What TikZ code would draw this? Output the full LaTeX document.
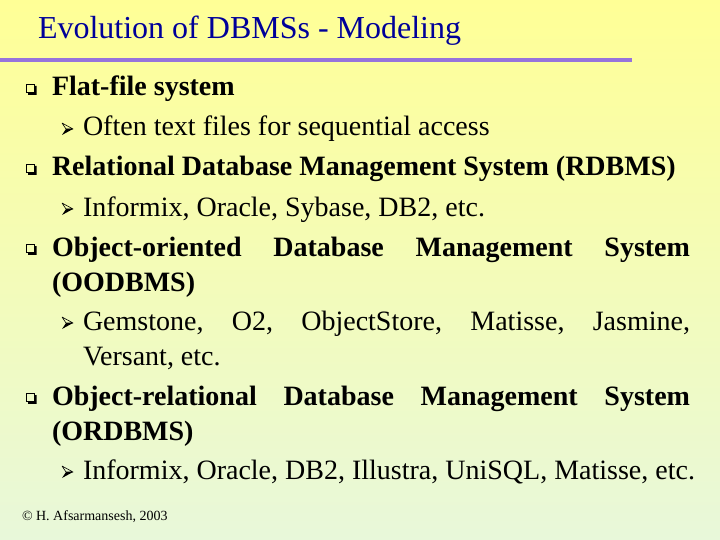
\documentclass[tikz,border=0pt]{standalone}
\usepackage{fontspec}
\setmainfont{Liberation Serif}
\definecolor{titleblue}{RGB}{0,0,153}
\definecolor{rulepurple}{RGB}{150,115,220}
\definecolor{bgtop}{RGB}{255,255,150}
\definecolor{bgbot}{RGB}{232,248,218}
\begin{document}
\begin{tikzpicture}[x=1pt,y=-1pt,
  txt/.style={anchor=base west,inner sep=0pt,outer sep=0pt},
  body/.style={txt,font=\fontsize{28}{33}\selectfont},
  head/.style={txt,font=\fontsize{28}{33}\selectfont\bfseries},
  titletxt/.style={txt,font=\fontsize{32}{38}\selectfont,text=titleblue},
  foottxt/.style={txt,font=\fontsize{14}{16}\selectfont}]
\useasboundingbox (0,0) rectangle (720,540);
\shade[top color=bgtop,bottom color=bgbot] (0,0) rectangle (720,540);
\node[titletxt] (title) at (38,38.5) {Evolution of DBMSs - Modeling};
\fill[rulepurple] (0,58) rectangle (632,62);
\node[head] (b1) at (52,96) {Flat-file system};
\node[body] (s1) at (83,136) {Often text files for sequential access};
\node[head] (b2) at (52,176) {Relational Database Management System (RDBMS)};
\node[body] (s2) at (83,216) {Informix, Oracle, Sybase, DB2, etc.};
\node[head] (b3) at (52,256) {\makebox[638pt][s]{Object-oriented Database Management System}};
\node[head] (b3b) at (52,291) {(OODBMS)};
\node[body] (s3) at (83,330) {\makebox[607pt][s]{Gemstone, O2, ObjectStore, Matisse, Jasmine,}};
\node[body] (s3b) at (83,365) {Versant, etc.};
\node[head] (b4) at (52,405) {\makebox[638pt][s]{Object-relational Database Management System}};
\node[head] (b4b) at (52,440) {(ORDBMS)};
\node[body] (s4) at (83,479) {Informix, Oracle, DB2, Illustra, UniSQL, Matisse, etc.};
\node[foottxt] (foot) at (22,520) {© H. Afsarmansesh, 2003};
\foreach \b in {96,176,256,405} {
  \draw[line width=1.2pt] (26.6,\b-11.4) rectangle (34.2,\b-3.6);
  \fill (34.8,\b-10) -- (36.6,\b-10) -- (36.6,\b-1.2) -- (28,\b-1.2) -- (28,\b-3) -- (34.8,\b-3) -- cycle;
}
\foreach \b in {136,216,330,479} {
  \draw[line width=0.6pt,line join=round] (62,\b-13) -- (73,\b-7) -- (66,\b-7) -- cycle;
  \fill (66,\b-7) -- (73,\b-7) -- (62,\b-1) -- cycle;
}
\end{tikzpicture}
\end{document}
